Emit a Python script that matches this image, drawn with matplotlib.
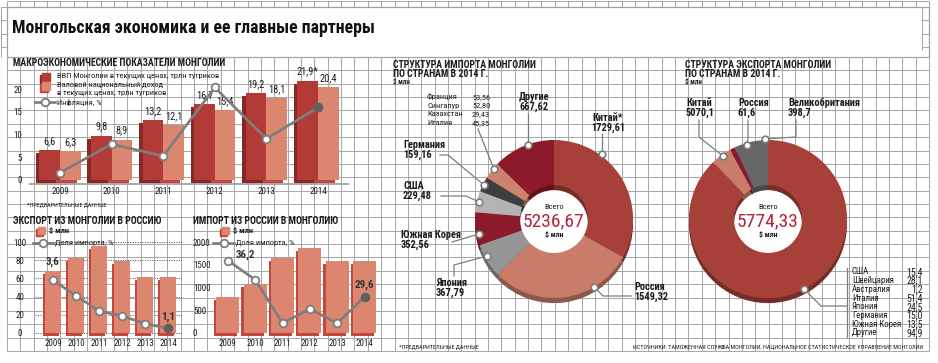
import matplotlib
matplotlib.use('Agg')
import matplotlib.pyplot as plt
import numpy as np
from matplotlib import font_manager as fm
from matplotlib import colors as mcolors
from matplotlib.patches import Rectangle, Circle

# ---------------- data ----------------
years = ['2009', '2010', '2011', '2012', '2013', '2014']

gdp = [6.6, 9.8, 13.2, 16.7, 19.2, 21.9]            # ВВП, трлн тугриков
gdp_text = ['6,6', '9,8', '13,2', '16,7', '19,2', '21,9*']
gni = [6.3, 8.9, 12.1, 15.4, 18.1, 20.4]            # ВНД, трлн тугриков
inflation = [1.6, 7.9, 5.3, 20.4, 9.1, 16.0]

exp_ru = [68, 83, 96, 79, 62, 62]                   # экспорт в Россию, $ млн
exp_share = [3.6, 2.8, 2.0, 1.75, 1.35, 1.1]        # доля, %
imp_ru = [785, 1076, 1651, 1869, 1585, 1578]        # импорт из России, $ млн
imp_share = [36.2, 32.7, 24.8, 27.4, 24.8, 29.6]    # доля, %

imp_small_names = ['Франция', 'Сингапур', 'Казахстан', 'Италия']
imp_small_vals = [53.56, 52.80, 29.43, 45.35]
imp_names = ['Китай*', 'Россия', 'Япония', 'Южная Корея', 'США', 'Германия', 'малые', 'Другие']
imp_vals = [1729.61, 1549.32, 367.79, 352.56, 229.48, 159.16, sum(imp_small_vals), 667.62]
imp_total = '5236,67'

exp_other_names = ['США', 'Швейцария', 'Австралия', 'Италия', 'Япония', 'Германия', 'Южная Корея', 'Другие']
exp_other_vals = [15.4, 28.1, 1.2, 51.4, 24.5, 15.0, 13.5, 94.9]
exp_names = ['Китай', 'прочие', 'Россия', 'Великобритания']
exp_vals = [5070.1, sum(exp_other_vals), 61.6, 398.7]
exp_total = '5774,33'

# ---------------- style ----------------
RED, RED_SIDE = '#b23b37', '#872827'
SALMON, SALMON_SIDE = '#dc8670', '#c4473f'
LINE = '#7d7d7d'
INK = '#1c1c1c'
imp_colors = ['#a8403a', '#c97c69', '#959595', '#8d1a2a', '#b3b3b3', '#3f3f3f', '#cd826e', '#8d1a2a']
exp_colors = ['#a8403a', '#c97c69', '#8d1a2a', '#666666']


def has_font(name):
    try:
        fm.findfont(fm.FontProperties(family=name), fallback_to_default=False)
        return True
    except Exception:
        return False


FAMILY, SCALE = 'Liberation Sans', 0.82
for cand in ['Liberation Sans Narrow', 'Roboto Condensed', 'DejaVu Sans Condensed']:
    if has_font(cand):
        FAMILY, SCALE = cand, 1.0
        break
plt.rcParams['font.family'] = [FAMILY, 'DejaVu Sans']


def fs(s):
    return s * SCALE


def fmt(v, nd=1):
    return f'{v:.{nd}f}'.replace('.', ',')


def darken(c, k=0.7):
    r, g, b = mcolors.to_rgb(c)
    return (r * k, g * k, b * k)


W, H = 938, 363
fig = plt.figure(figsize=(W / 100, H / 100), dpi=100)


def px_axes(x0, y0, x1, y1):
    return fig.add_axes([x0 / W, 1 - y1 / H, (x1 - x0) / W, (y1 - y0) / H])


def style_axes(ax):
    ax.patch.set_visible(False)
    for s in ax.spines.values():
        s.set_visible(False)
    ax.tick_params(length=0, colors=INK, labelsize=fs(6.5))


# ---------------- background grid ----------------
bg = fig.add_axes([0, 0, 1, 1])
bg.set_xlim(0, W)
bg.set_ylim(H, 0)
bg.axis('off')
step = (929 - 7) / 69
gx = 7 + step * np.arange(70)
gy = 57 + step * np.arange(23)
bg.vlines(gx, 57, gy[-1], color='#a8a8a8', lw=0.75)
bg.hlines(gy, 7, 929, color='#a8a8a8', lw=0.75)
bg.add_patch(Rectangle((7, 7), 922, 50, fc='white', ec='#a0a0a0', lw=0.9))
bg.hlines(1, 7, 929, color='#a8a8a8', lw=0.75)
bg.vlines(gx, 1, 7, color='#a8a8a8', lw=0.75)
bg.vlines(1, 7, 57, color='#a8a8a8', lw=0.75)
bg.hlines(7 + step * np.arange(4), 1, 7, color='#a8a8a8', lw=0.75)
bg.vlines(922, 7, 50, color='#a8a8a8', lw=0.75)
bg.hlines(7 + step * np.arange(4), 922, 929, color='#a8a8a8', lw=0.75)

# ---------------- macro chart ----------------
x = np.arange(len(years))
ax1 = px_axes(29, 75.7, 349, 186.8)
style_axes(ax1)
ax1.set_xlim(-0.6, 5.6)
ax1.set_ylim(-1.5, 23)
ax1.axhline(-0.95, color='#9a9a9a', lw=1.2, zorder=1)
ax1.bar(x - 0.2 - 0.07, gdp, 0.4, bottom=-0.7, color=RED_SIDE, zorder=2)
ax1.bar(x + 0.2 - 0.07, gni, 0.4, bottom=-0.7, color=SALMON_SIDE, zorder=2)
ax1.bar(x - 0.2, gdp, 0.4, color=RED, zorder=3)
ax1.bar(x + 0.2, gni, 0.4, color=SALMON, zorder=3)
for i in range(len(years)):
    ax1.annotate(gdp_text[i], (x[i] - 0.2, gdp[i]), xytext=(0, 3), textcoords='offset points',
                 ha='center', va='bottom', fontsize=fs(7.5), color=INK)
    ax1.annotate(fmt(gni[i]), (x[i] + 0.2, gni[i]), xytext=(0, 3), textcoords='offset points',
                 ha='center', va='bottom', fontsize=fs(7.5), color=INK)
ax1.plot(x, inflation, color=LINE, lw=1.9, marker='o', ms=5.5, mfc='white', mec=LINE, mew=1.3, zorder=6)
ax1.plot(x[-1:], inflation[-1:], ls='none', marker='o', ms=5.8, mfc='#5f5f5f', mec='#5f5f5f', zorder=7)
ax1.set_xticks(x, years)
ax1.set_yticks([0, 5, 10, 15, 20])
ax1.tick_params(axis='x', pad=0.5)
ax1.tick_params(axis='y', pad=5)

# ---------------- export to Russia ----------------
ax2 = px_axes(34.6, 233, 181.8, 337.5)
style_axes(ax2)
ax2.set_xlim(-0.8, 5.6)
ax2.set_ylim(-5, 110)
ax2.set_axisbelow(True)
ax2.yaxis.grid(True, ls=(0, (1, 1.5)), color='#444444', lw=0.7)
ax2.bar(x - 0.1, exp_ru, 0.7, bottom=-3.3, color=SALMON_SIDE, zorder=2)
ax2.bar(x, exp_ru, 0.7, color=SALMON, zorder=3)
ax2.set_xticks(x, years)
ax2.set_yticks(range(0, 101, 20))
for lbl in ax2.get_yticklabels():
    lbl.set_ha('center')
ax2.tick_params(axis='y', pad=10.5)
ax2.tick_params(axis='x', pad=1)
t2 = ax2.twinx()
t2.set_ylim(0.63, 6.05)
t2.axis('off')
t2.plot(x, exp_share, color=LINE, lw=1.9, marker='o', ms=5.5, mfc='white', mec=LINE, mew=1.3, zorder=6)
t2.plot(x[-1:], exp_share[-1:], ls='none', marker='o', ms=5.8, mfc='#5f5f5f', mec='#5f5f5f', zorder=7)
t2.annotate(fmt(exp_share[0]), (x[0], exp_share[0]), xytext=(0, 13), textcoords='offset points',
            ha='center', va='center', fontsize=fs(8), fontweight='bold', color='#333333')
t2.annotate(fmt(exp_share[-1]), (x[-1], exp_share[-1]), xytext=(0, 8.5), textcoords='offset points',
            ha='center', va='center', fontsize=fs(8), fontweight='bold', color='#333333')

# ---------------- import from Russia ----------------
ax3 = px_axes(206, 233, 381, 337.5)
style_axes(ax3)
ax3.set_xlim(-0.8, 5.6)
ax3.set_ylim(-100, 2200)
ax3.bar(x - 0.09, imp_ru, 0.84, bottom=-66, color=SALMON_SIDE, zorder=2)
ax3.bar(x, imp_ru, 0.84, color=SALMON, zorder=3)
ax3.set_xticks(x, years)
ax3.set_yticks(range(0, 2001, 500))
for lbl in ax3.get_yticklabels():
    lbl.set_ha('left')
ax3.tick_params(axis='y', pad=9.4)
ax3.tick_params(axis='x', pad=1)
t3 = ax3.twinx()
t3.set_ylim(22.2, 41.2)
t3.axis('off')
t3.plot(x, imp_share, color=LINE, lw=1.9, marker='o', ms=5.5, mfc='white', mec=LINE, mew=1.3, zorder=6)
t3.plot(x[-1:], imp_share[-1:], ls='none', marker='o', ms=5.8, mfc='#5f5f5f', mec='#5f5f5f', zorder=7)
t3.annotate(fmt(imp_share[0]), (x[0], imp_share[0]), xytext=(12.5, 4), textcoords='offset points',
            ha='center', va='center', fontsize=fs(8), fontweight='bold', color='#333333')
t3.annotate(fmt(imp_share[-1]), (x[-1], imp_share[-1]), xytext=(0, 5), textcoords='offset points',
            ha='center', va='bottom', fontsize=fs(8), fontweight='bold', color='#333333')


# ---------------- donuts ----------------
def donut(cx, cy, vals, cols):
    ax = px_axes(cx - 79, cy - 79, cx + 79, cy + 84.5)
    ax.add_patch(Circle((0, -0.065), 0.43, color='white', zorder=0))
    ax.pie(vals, colors=[darken(c) for c in cols], startangle=90, counterclock=False,
           center=(0, -0.065), radius=1, wedgeprops=dict(width=0.57, linewidth=0))
    ax.pie(vals, colors=cols, startangle=90, counterclock=False,
           radius=1, wedgeprops=dict(width=0.57, linewidth=0))
    ax.set_aspect('auto')
    ax.set_xlim(-1, 1)
    ax.set_ylim(-1.07, 1)
    ax.axis('off')
    return ax


donut(554, 219, imp_vals, imp_colors)
donut(768, 219, exp_vals, exp_colors)

# ---------------- foreground texts / leaders ----------------
fg = fig.add_axes([0, 0, 1, 1])
fg.set_xlim(0, W)
fg.set_ylim(H, 0)
fg.axis('off')
fg.patch.set_visible(False)


def T(px, py, s, size, bold=False, ha='left', color=INK):
    fg.text(px, py, s, fontsize=fs(size), fontweight='bold' if bold else 'normal',
            ha=ha, va='center', color=color)


def leader(pts):
    xs, ys = zip(*pts)
    fg.plot(xs, ys, color=LINE, lw=0.9, zorder=8)
    fg.plot(xs[-1], ys[-1], marker='o', ms=4.8, mfc='white', mec=LINE, mew=1.2, zorder=9)


# title
T(12, 28, 'Монгольская экономика и ее главные партнеры', 12.8, bold=True, color='#111111')

# macro block
T(13, 63, 'МАКРОЭКОНОМИЧЕСКИЕ ПОКАЗАТЕЛИ МОНГОЛИИ', 7, bold=True)
fg.add_patch(Rectangle((40, 75), 8, 8, color=RED_SIDE, zorder=5))
fg.add_patch(Rectangle((42, 73), 8, 8, color=RED, zorder=6))
fg.add_patch(Rectangle((40, 84), 8, 8, color=SALMON_SIDE, zorder=5))
fg.add_patch(Rectangle((42, 82), 8, 8, color=SALMON, zorder=6))
T(57, 76, 'ВВП Монголии в текущих ценах, трлн тугриков', 6)
T(57, 85, 'Валовой национальный доход', 6)
T(57, 93, 'в текущих ценах, трлн тугриков', 6)
fg.plot([35, 55], [102, 102], color=LINE, lw=1.9, zorder=6)
fg.plot(45, 102, marker='o', ms=5.5, mfc='white', mec=LINE, mew=1.3, zorder=7)
T(57, 102, 'Инфляция, %', 6)
T(27, 205, '*ПРЕДВАРИТЕЛЬНЫЕ ДАННЫЕ', 4.4)

# export / import blocks
for (tx, title, sq, ln0, ln1, txt) in [
        (13, 'ЭКСПОРТ ИЗ МОНГОЛИИ В РОССИЮ', 38, 33, 53, 55),
        (193, 'ИМПОРТ ИЗ РОССИИ В МОНГОЛИЮ', 222, 213, 234, 236)]:
    T(tx, 221, title, 7, bold=True)
    fg.add_patch(Rectangle((sq - 2, 229), 7, 7, color=SALMON_SIDE, zorder=5))
    fg.add_patch(Rectangle((sq, 227), 7, 7, color=SALMON, zorder=6))
    T(sq + 11, 231, '$ млн', 6, bold=True)
    fg.plot([ln0, ln1], [243, 243], color=LINE, lw=1.9, zorder=6)
    fg.plot((ln0 + ln1) / 2, 243, marker='o', ms=5.5, mfc='white', mec=LINE, mew=1.3, zorder=7)
    T(txt, 243, 'Доля импорта, %', 6)

# import donut
T(393, 65, 'СТРУКТУРА ИМПОРТА МОНГОЛИИ', 7, bold=True)
T(393, 74, 'ПО СТРАНАМ В 2014 Г.', 7, bold=True)
T(393, 82, '$ млн', 5, bold=True)
T(554, 207, 'Всего', 6, ha='center')
T(554, 221, imp_total, 14, ha='center', color='#b2243a')
T(554, 235, '$ млн', 5.5, bold=True, ha='center')

T(534, 97, imp_names[7], 7.5, bold=True, ha='center')
T(534, 107, fmt(imp_vals[7], 2), 7.5, bold=True, ha='center')
leader([(528, 114), (528, 145)])
T(608, 118, imp_names[0], 7.5, bold=True, ha='center')
T(608, 128, fmt(imp_vals[0], 2), 7.5, bold=True, ha='center')
leader([(602, 134), (602, 154)])
for k, (nm, v) in enumerate(zip(imp_small_names, imp_small_vals)):
    T(427, 97 + k * 8.6, nm, 6)
    T(472, 97 + k * 8.6, fmt(v, 2), 6)
leader([(478, 129), (494, 169)])
T(403, 145, imp_names[5], 7.5, bold=True)
T(403, 155, fmt(imp_vals[5], 2), 7.5, bold=True)
leader([(440, 155), (448, 155), (484, 185)])
T(403, 186, imp_names[4], 7.5, bold=True)
T(403, 196, fmt(imp_vals[4], 2), 7.5, bold=True)
leader([(441, 196), (466, 196), (479, 202)])
T(401, 235, imp_names[3], 7.5, bold=True)
T(401, 245, fmt(imp_vals[3], 2), 7.5, bold=True)
leader([(452, 242), (479, 234)])
T(436, 283, imp_names[2], 7.5, bold=True)
T(436, 293, fmt(imp_vals[2], 2), 7.5, bold=True)
leader([(454, 276), (454, 265), (487, 256)])
T(634, 287, imp_names[1], 7.5, bold=True)
T(634, 297, fmt(imp_vals[1], 2), 7.5, bold=True)
leader([(631, 296), (603, 296), (594, 287)])

# export donut
T(685, 65, 'СТРУКТУРА ЭКСПОРТА МОНГОЛИИ', 7, bold=True)
T(685, 74, 'ПО СТРАНАМ В 2014 Г.', 7, bold=True)
T(685, 82, '$ млн', 5, bold=True)
T(768, 207, 'Всего', 6, ha='center')
T(768, 221, exp_total, 14, ha='center', color='#b2243a')
T(768, 235, '$ млн', 5.5, bold=True, ha='center')

T(686, 103, exp_names[0], 7.5, bold=True)
T(686, 113, fmt(exp_vals[0]), 7.5, bold=True)
leader([(699, 120), (699, 137), (723, 156)])
T(738, 103, exp_names[2], 7.5, bold=True)
T(738, 113, fmt(exp_vals[2]), 7.5, bold=True)
leader([(748, 120), (748, 138), (747, 145)])
T(788, 103, exp_names[3], 7.5, bold=True)
T(788, 113, fmt(exp_vals[3]), 7.5, bold=True)
leader([(796, 120), (796, 137), (765, 139)])
for k, (nm, v) in enumerate(zip(exp_other_names, exp_other_vals)):
    T(852, 272 + k * 8.7, nm, 6.3)
    T(923, 272 + k * 8.7, fmt(v), 7, ha='right')
fg.plot([847, 847], [268, 337], color=LINE, lw=0.9)
leader([(847, 306), (821, 306), (804, 289)])

# footnotes
T(399, 347, '*ПРЕДВАРИТЕЛЬНЫЕ ДАННЫЕ', 4.4)
T(923, 347, 'ИСТОЧНИКИ: ТАМОЖЕННАЯ СЛУЖБА МОНГОЛИИ, НАЦИОНАЛЬНОЕ СТАТИСТИЧЕСКОЕ УПРАВЛЕНИЕ МОНГОЛИИ',
  4.4, ha='right')

fig.savefig('out.png', dpi=100)
